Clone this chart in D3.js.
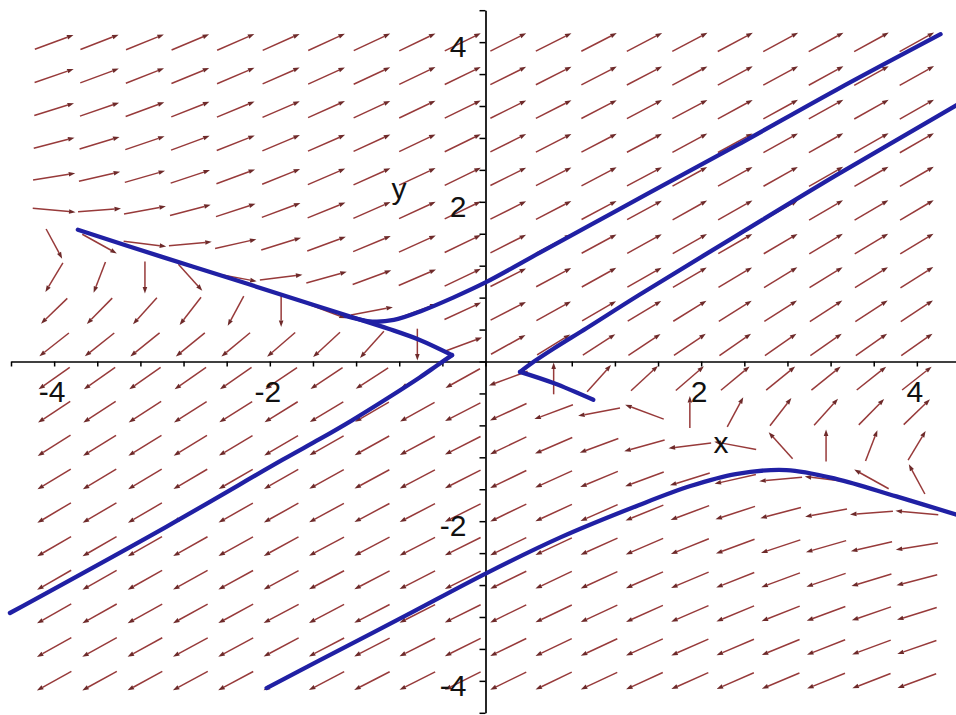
<!DOCTYPE html>
<html><head><meta charset="utf-8">
<script src="https://cdn.jsdelivr.net/npm/d3@7"></script>
<style>body{margin:0;background:#fff}svg{display:block}</style>
</head><body>
<svg id="chart" width="956" height="715"></svg>
<script>
// ---- data ----
const gridX = [-4,-3.579,-3.158,-2.737,-2.316,-1.895,-1.474,-1.053,-0.632,-0.211,0.211,0.632,1.053,1.474,1.895,2.316,2.737,3.158,3.579,4];
const gridY = [4,3.579,3.158,2.737,2.316,1.895,1.474,1.053,0.632,0.211,-0.211,-0.632,-1.053,-1.474,-1.895,-2.316,-2.737,-3.158,-3.579,-4];
// horizontal component of each field arrow (row = gridY, column = gridX)
const fieldDX = [
[19,20,21,22,23,24,25,26,27,28,29,30,31,32,33,34,35,36,37,38],
[16,17,18,19,20,21,22,23,24,25,26,27,28,29,30,31,32,33,34,35],
[13,14,15,16,17,18,19,20,21,22,23,24,25,26,27,28,29,30,31,32],
[10,11,12,13,14,15,16,17,18,19,20,21,22,23,24,25,26,27,28,29],
[7,8,9,10,11,12,13,14,15,16,17,18,19,20,21,22,23,24,25,26],
[4,5,6,7,8,9,10,11,12,13,14,15,16,17,18,19,20,21,22,23],
[1,2,3,4,5,6,7,8,9,10,11,12,13,14,15,16,17,18,19,20],
[-2,-1,0,1,2,3,4,5,6,7,8,9,10,11,12,13,14,15,16,17],
[-5,-4,-3,-2,-1,0,1,2,3,4,5,6,7,8,9,10,11,12,13,14],
[-8,-7,-6,-5,-4,-3,-2,-1,0,1,2,3,4,5,6,7,8,9,10,11],
[-11,-10,-9,-8,-7,-6,-5,-4,-3,-2,-1,0,1,2,3,4,5,6,7,8],
[-14,-13,-12,-11,-10,-9,-8,-7,-6,-5,-4,-3,-2,-1,0,1,2,3,4,5],
[-17,-16,-15,-14,-13,-12,-11,-10,-9,-8,-7,-6,-5,-4,-3,-2,-1,0,1,2],
[-20,-19,-18,-17,-16,-15,-14,-13,-12,-11,-10,-9,-8,-7,-6,-5,-4,-3,-2,-1],
[-23,-22,-21,-20,-19,-18,-17,-16,-15,-14,-13,-12,-11,-10,-9,-8,-7,-6,-5,-4],
[-26,-25,-24,-23,-22,-21,-20,-19,-18,-17,-16,-15,-14,-13,-12,-11,-10,-9,-8,-7],
[-29,-28,-27,-26,-25,-24,-23,-22,-21,-20,-19,-18,-17,-16,-15,-14,-13,-12,-11,-10],
[-32,-31,-30,-29,-28,-27,-26,-25,-24,-23,-22,-21,-20,-19,-18,-17,-16,-15,-14,-13],
[-35,-34,-33,-32,-31,-30,-29,-28,-27,-26,-25,-24,-23,-22,-21,-20,-19,-18,-17,-16],
[-38,-37,-36,-35,-34,-33,-32,-31,-30,-29,-28,-27,-26,-25,-24,-23,-22,-21,-20,-19]
];
// vertical component of each field arrow
const fieldDY = [
[9.5,10.5,11.5,12.5,13.5,14.5,15.5,16.5,17.5,18.5,19.5,20.5,21.5,22.5,23.5,24.5,25.5,26.5,27.5,28.5],
[7.5,8.5,9.5,10.5,11.5,12.5,13.5,14.5,15.5,16.5,17.5,18.5,19.5,20.5,21.5,22.5,23.5,24.5,25.5,26.5],
[5.5,6.5,7.5,8.5,9.5,10.5,11.5,12.5,13.5,14.5,15.5,16.5,17.5,18.5,19.5,20.5,21.5,22.5,23.5,24.5],
[3.5,4.5,5.5,6.5,7.5,8.5,9.5,10.5,11.5,12.5,13.5,14.5,15.5,16.5,17.5,18.5,19.5,20.5,21.5,22.5],
[1.5,2.5,3.5,4.5,5.5,6.5,7.5,8.5,9.5,10.5,11.5,12.5,13.5,14.5,15.5,16.5,17.5,18.5,19.5,20.5],
[-0.5,0.5,1.5,2.5,3.5,4.5,5.5,6.5,7.5,8.5,9.5,10.5,11.5,12.5,13.5,14.5,15.5,16.5,17.5,18.5],
[-2.5,-1.5,-0.5,0.5,1.5,2.5,3.5,4.5,5.5,6.5,7.5,8.5,9.5,10.5,11.5,12.5,13.5,14.5,15.5,16.5],
[-4.5,-3.5,-2.5,-1.5,-0.5,0.5,1.5,2.5,3.5,4.5,5.5,6.5,7.5,8.5,9.5,10.5,11.5,12.5,13.5,14.5],
[-6.5,-5.5,-4.5,-3.5,-2.5,-1.5,-0.5,0.5,1.5,2.5,3.5,4.5,5.5,6.5,7.5,8.5,9.5,10.5,11.5,12.5],
[-8.5,-7.5,-6.5,-5.5,-4.5,-3.5,-2.5,-1.5,-0.5,0.5,1.5,2.5,3.5,4.5,5.5,6.5,7.5,8.5,9.5,10.5],
[-10.5,-9.5,-8.5,-7.5,-6.5,-5.5,-4.5,-3.5,-2.5,-1.5,-0.5,0.5,1.5,2.5,3.5,4.5,5.5,6.5,7.5,8.5],
[-12.5,-11.5,-10.5,-9.5,-8.5,-7.5,-6.5,-5.5,-4.5,-3.5,-2.5,-1.5,-0.5,0.5,1.5,2.5,3.5,4.5,5.5,6.5],
[-14.5,-13.5,-12.5,-11.5,-10.5,-9.5,-8.5,-7.5,-6.5,-5.5,-4.5,-3.5,-2.5,-1.5,-0.5,0.5,1.5,2.5,3.5,4.5],
[-16.5,-15.5,-14.5,-13.5,-12.5,-11.5,-10.5,-9.5,-8.5,-7.5,-6.5,-5.5,-4.5,-3.5,-2.5,-1.5,-0.5,0.5,1.5,2.5],
[-18.5,-17.5,-16.5,-15.5,-14.5,-13.5,-12.5,-11.5,-10.5,-9.5,-8.5,-7.5,-6.5,-5.5,-4.5,-3.5,-2.5,-1.5,-0.5,0.5],
[-20.5,-19.5,-18.5,-17.5,-16.5,-15.5,-14.5,-13.5,-12.5,-11.5,-10.5,-9.5,-8.5,-7.5,-6.5,-5.5,-4.5,-3.5,-2.5,-1.5],
[-22.5,-21.5,-20.5,-19.5,-18.5,-17.5,-16.5,-15.5,-14.5,-13.5,-12.5,-11.5,-10.5,-9.5,-8.5,-7.5,-6.5,-5.5,-4.5,-3.5],
[-24.5,-23.5,-22.5,-21.5,-20.5,-19.5,-18.5,-17.5,-16.5,-15.5,-14.5,-13.5,-12.5,-11.5,-10.5,-9.5,-8.5,-7.5,-6.5,-5.5],
[-26.5,-25.5,-24.5,-23.5,-22.5,-21.5,-20.5,-19.5,-18.5,-17.5,-16.5,-15.5,-14.5,-13.5,-12.5,-11.5,-10.5,-9.5,-8.5,-7.5],
[-28.5,-27.5,-26.5,-25.5,-24.5,-23.5,-22.5,-21.5,-20.5,-19.5,-18.5,-17.5,-16.5,-15.5,-14.5,-13.5,-12.5,-11.5,-10.5,-9.5]
];
const xTickLabels = [-4, -2, 2, 4];
const yTickLabels = [4, 2, -2, -4];
// solution curves (x, y)
const curveLUpper = [[-3.78,1.65],[-3.0,1.31],[-2.2,0.97],[-1.6,0.71],[-1.21,0.545],[-0.9,0.41],[-0.61,0.27],[-0.31,0.08]];
const curveLLower = [[-0.31,0.08],[-0.45,-0.05],[-0.61,-0.2],[-0.92,-0.47],[-1.23,-0.73],[-1.535,-0.97],[-1.88,-1.23],[-2.96,-2.07],[-4.41,-3.15]];
const curveA = [[-1.3,0.57],[-1.05,0.5],[-0.85,0.52],[-0.6,0.63],[-0.3,0.8],[0.0,0.99],[0.5,1.36],[1.0,1.73],[1.5,2.1],[2.32,2.7],[3.25,3.4],[4.22,4.1]];
const curveRUpper = [[0.32,-0.13],[0.45,0.0],[0.63,0.16],[0.94,0.42],[1.42,0.83],[2.32,1.57],[3.25,2.33],[4.42,3.25]];
const curveRLower = [[0.32,-0.13],[0.63,-0.27],[1.0,-0.48]];
const curveB = [[-2.03,-4.09],[-1.535,-3.74],[-0.75,-3.19],[0.01,-2.65],[0.7,-2.2],[1.42,-1.8],[1.9,-1.56],[2.32,-1.41],[2.79,-1.36],[3.25,-1.47],[3.81,-1.69],[4.42,-1.94]];

// ---- drawing ----
const W = 956, H = 715;
const x = d3.scaleLinear().domain([-4.4, 4.4]).range([11, 960]);
const y = d3.scaleLinear().domain([-4.4, 4.4]).range([712.8, 10.2]);
const svg = d3.select('#chart');
svg.append('rect').attr('width', W).attr('height', H).attr('fill', '#fff');

const arrowColor = '#973a3a';
const arrowLen = 0.4; // data units
const gA = svg.append('g');
const arrows = [];
gridY.forEach((yy, j) => gridX.forEach((xx, i) => arrows.push({x: xx, y: yy, dx: fieldDX[j][i], dy: fieldDY[j][i]})));
arrows.forEach(a => {
  const m = Math.hypot(a.dx, a.dy);
  const ux = a.dx / m * arrowLen / 2, uy = a.dy / m * arrowLen / 2;
  const x0 = x(a.x - ux), y0 = y(a.y - uy), x1 = x(a.x + ux), y1 = y(a.y + uy);
  const ang = Math.atan2(y1 - y0, x1 - x0);
  const hl = 6.5, hw = 2.3;
  const bx = x1 - hl * Math.cos(ang), by = y1 - hl * Math.sin(ang);
  gA.append('line').attr('x1', x0).attr('y1', y0).attr('x2', bx).attr('y2', by)
    .attr('stroke', arrowColor).attr('stroke-width', 1.5);
  gA.append('path')
    .attr('d', `M${x1},${y1}L${bx + hw * Math.sin(ang)},${by - hw * Math.cos(ang)}L${bx - hw * Math.sin(ang)},${by + hw * Math.cos(ang)}Z`)
    .attr('fill', '#6e2a2a');
});

// axes
const ticks = d3.range(-11, 12).map(k => +(k * 0.4).toFixed(2));
const gx = svg.append('g').attr('transform', `translate(0,${y(0)})`)
  .call(d3.axisBottom(x).tickValues(ticks).tickFormat('').tickSize(5).tickSizeOuter(0));
const gy = svg.append('g').attr('transform', `translate(${x(0)},0)`)
  .call(d3.axisLeft(y).tickValues(ticks).tickFormat('').tickSize(6).tickSizeOuter(0));
[gx, gy].forEach(g => {
  g.selectAll('path.domain').attr('stroke', '#000').attr('stroke-width', 1.7);
  g.selectAll('.tick line').attr('stroke', '#000').attr('stroke-width', 1.5);
});

// solution curves
const line = d3.line().x(d => x(d[0])).y(d => y(d[1])).curve(d3.curveCatmullRom.alpha(0.5));
[curveLUpper, curveLLower, curveA, curveRUpper, curveRLower, curveB].forEach(c => {
  svg.append('path').attr('d', line(c)).attr('fill', 'none')
    .attr('stroke', '#2020a4').attr('stroke-width', 4.3)
    .attr('stroke-linecap', 'round').attr('stroke-linejoin', 'round');
});

// tick labels
const font = '"Liberation Sans", Arial, sans-serif';
svg.append('g').selectAll('text').data(xTickLabels).join('text')
  .attr('x', d => x(d) - 2).attr('y', y(0) + 40)
  .attr('text-anchor', 'middle').attr('font-family', font).attr('font-size', 30)
  .attr('fill', '#111').text(d => String(d));
svg.append('g').selectAll('text').data(yTickLabels).join('text')
  .attr('x', x(0) - 19).attr('y', d => y(d) + 15)
  .attr('text-anchor', 'end').attr('font-family', font).attr('font-size', 30)
  .attr('fill', '#111').text(d => String(d));

// axis titles
svg.append('text').attr('x', 399).attr('y', 199).attr('text-anchor', 'middle')
  .attr('font-family', font).attr('font-size', 30).attr('fill', '#111').text('y');
svg.append('text').attr('x', 721).attr('y', 453).attr('text-anchor', 'middle')
  .attr('font-family', font).attr('font-size', 30).attr('fill', '#111').text('x');
</script>
</body></html>
